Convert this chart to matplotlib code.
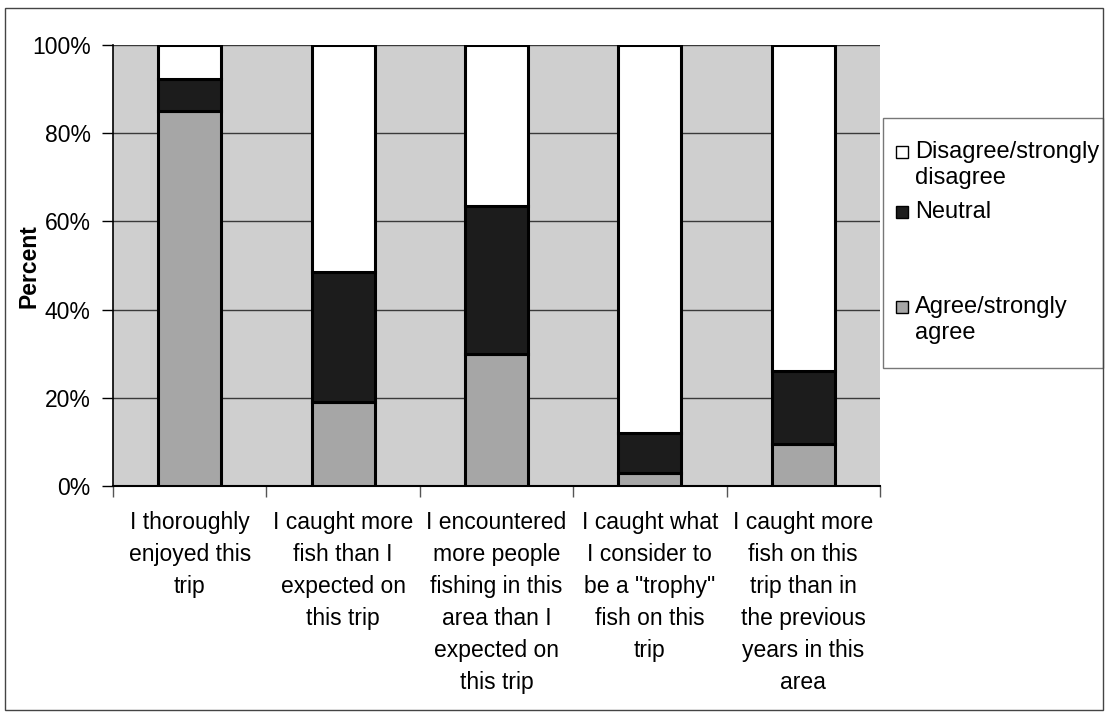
import matplotlib
matplotlib.use("Agg")
import matplotlib.pyplot as plt
from matplotlib.patches import Rectangle
import numpy as np

plt.rcParams['font.family'] = ['Liberation Sans', 'DejaVu Sans']

categories = [
    "I thoroughly\nenjoyed this\ntrip",
    "I caught more\nfish than I\nexpected on\nthis trip",
    "I encountered\nmore people\nfishing in this\narea than I\nexpected on\nthis trip",
    "I caught what\nI consider to\nbe a \"trophy\"\nfish on this\ntrip",
    "I caught more\nfish on this\ntrip than in\nthe previous\nyears in this\narea",
]
agree = [85, 19, 30, 3, 9.5]
neutral = [7.3, 29.6, 33.5, 9, 16.5]
disagree = [100 - a - n for a, n in zip(agree, neutral)]
series_names = ["Agree/strongly\nagree", "Neutral", "Disagree/strongly\ndisagree"]
yticks = [0, 20, 40, 60, 80, 100]
ytick_labels = ["0%", "20%", "40%", "60%", "80%", "100%"]

colors = ["#a6a6a6", "#1c1c1c", "#ffffff"]
W, H = 1105, 712
fig = plt.figure(figsize=(W / 100, H / 100), dpi=100)
ax = fig.add_axes([113 / W, 1 - 486 / H, (880 - 113) / W, (486 - 45) / H])
ax.set_facecolor("#cfcfcf")

x = np.arange(len(categories))
bottom = np.zeros(len(categories))
for vals, col in zip([agree, neutral, disagree], colors):
    ax.bar(x, vals, width=0.41, bottom=bottom, color=col, edgecolor="black",
           linewidth=2.2, zorder=3)
    bottom += np.array(vals)

ax.set_xlim(-0.5, len(categories) - 0.5)
ax.set_ylim(0, 100)
ax.set_yticks(yticks)
ax.set_yticklabels(ytick_labels, fontsize=16.5)
ax.set_xticks(x)
ax.set_xticklabels(categories, fontsize=16.5, linespacing=1.5, va="top")
ax.set_xticks(np.arange(-0.5, len(categories), 1.0), minor=True)
ax.tick_params(axis="x", which="major", length=0, pad=18)
ax.tick_params(axis="x", which="minor", length=8, width=1, direction="out", color="#555555")
ax.tick_params(axis="y", length=8, width=1, direction="out", pad=8)
ax.yaxis.grid(True, color="#3a3a3a", linewidth=1, zorder=1)
ax.set_axisbelow(True)
for s in ["top", "right"]:
    ax.spines[s].set_visible(False)
ax.spines["left"].set_linewidth(1.2)
ax.spines["bottom"].set_linewidth(1.5)

fig.text(29 / W, 1 - 266 / H, "Percent", rotation=90, fontsize=16.5, fontweight="bold",
         ha="center", va="center")

# legend (drawn manually)
fig.patches.append(Rectangle((883 / W, 1 - 368 / H), (1103 - 883) / W, (368 - 118) / H,
                             transform=fig.transFigure, facecolor="white",
                             edgecolor="#777777", linewidth=1))
leg_y = [320, 212, 165]  # centers of entries (pixels from top)
for name, col, yc in zip(series_names, colors, leg_y):
    nlines = name.count("\n") + 1
    ytop_line = yc - (nlines - 1) * 13
    fig.patches.append(Rectangle((896 / W, 1 - (ytop_line + 6) / H), 12 / W, 12 / H,
                                 transform=fig.transFigure, facecolor=col,
                                 edgecolor="black", linewidth=1))
    fig.text(915 / W, 1 - yc / H, name, fontsize=17, ha="left", va="center",
             linespacing=1.25)

# outer border
fig.patches.append(Rectangle((5 / W, 2 / H), (1103 - 5) / W, (704 - 2) / H,
                             transform=fig.transFigure, facecolor="none",
                             edgecolor="#444444", linewidth=1))

fig.savefig("out.png", dpi=100)
